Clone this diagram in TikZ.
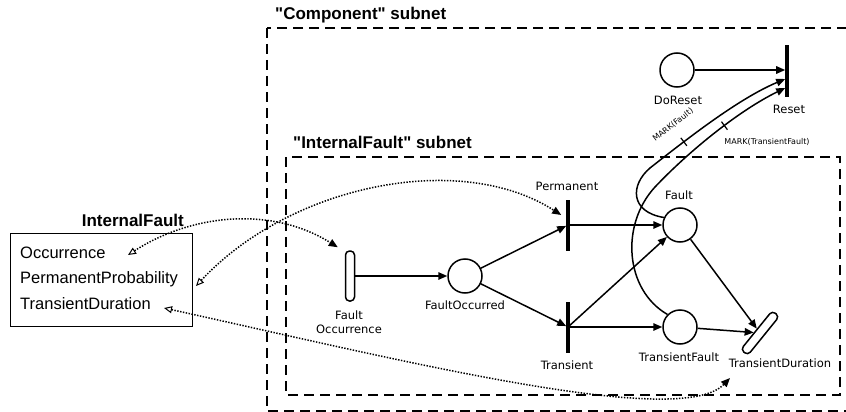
\documentclass[tikz,border=0pt]{standalone}
\usepackage{fontspec}
\usetikzlibrary{arrows.meta,calc}
\newfontfamily\netfont{DejaVu Sans}
\newfontfamily\boxfont{Liberation Sans}

\begin{document}
\begin{tikzpicture}[x=1pt,y=-1pt,
  place/.style={circle,draw,line width=1.5pt,minimum size=34pt,inner sep=0},
  bar/.style={rectangle,fill=black,minimum width=3.2pt,minimum height=51pt,inner sep=0},
  timed/.style={rectangle,draw,rounded corners=4pt,line width=1.5pt,minimum width=9pt,minimum height=50pt,inner sep=0},
  lbl/.style={font=\netfont\fontsize{11.5}{14}\selectfont,inner sep=0},
  marklbl/.style={font=\netfont\fontsize{8}{9}\selectfont,inner sep=0},
  arc/.style={line width=1.5pt,-{Triangle[length=9pt,width=7.5pt]}},
  tick/.style={sloped,inner sep=0},
  link/.style={line width=1.5pt,dash pattern=on 1.4pt off 1.5pt,
    {Triangle[open,length=8pt,width=7pt,line width=1pt]}-{Triangle[length=9pt,width=7.5pt]}},
  subnet/.style={line width=1.8pt,dash pattern=on 10pt off 6pt},
  title/.style={font=\boxfont\bfseries\fontsize{17}{20}\selectfont,inner sep=0,anchor=west},
  item/.style={font=\boxfont\fontsize{16.5}{19}\selectfont,inner sep=0,anchor=west},
]
\useasboundingbox (0,0) rectangle (846,412);
\clip (0,0) rectangle (846,412);
\fill[white] (0,0) rectangle (846,412);

% subnet frames
\draw[subnet] (267,28) rectangle (870,411);
\draw[subnet] (286,157) rectangle (840,395);
\node[title] (comp-t) at (275,15) {"Component" subnet};
\node[title] (if-t) at (293,142) {"InternalFault" subnet};

% parameter block
\node[draw,line width=1.4pt,minimum width=182pt,minimum height=93pt,anchor=north west,inner sep=0] (ifbox) at (10,233) {};
\node[title,anchor=east] (ifbox-t) at (184,220) {InternalFault};
\node[item] (occ) at (20,253) {Occurrence};
\node[item] (pprob) at (20,279) {PermanentProbability};
\node[item] (tdur) at (20,304) {TransientDuration};

% places and transitions
\node[place] (doreset) at (677,70) {};
\node[bar,minimum height=52pt] (reset) at (787,71) {};
\node[place] (fault) at (680,225) {};
\node[place] (tf) at (680,327) {};
\node[place] (fo) at (465,276) {};
\node[bar] (perm) at (568,225) {};
\node[bar] (trans) at (568,327) {};
\node[timed] (focc) at (350,276) {};
\node[timed,rotate=-39] (td) at (760,333) {};

% labels
\node[lbl] (doreset-l) at (678,100) {DoReset};
\node[lbl] (reset-l) at (789,109) {Reset};
\node[lbl] (fault-l) at (679,195) {Fault};
\node[lbl] (tf-l) at (679,357) {TransientFault};
\node[lbl] (td-l) at (780,363) {TransientDuration};
\node[lbl] (perm-l) at (567,186) {Permanent};
\node[lbl] (trans-l) at (567,365) {Transient};
\node[lbl] (fo-l) at (465,305) {FaultOccurred};
\node[lbl,align=center] (focc-l) at (349,322) {Fault\\Occurrence};

% arcs
\draw[arc] (focc) -- (fo);
\draw[arc] (fo) -- (perm);
\draw[arc] (fo) -- (trans);
\draw[arc] (perm) -- (fault);
\draw[arc] (trans) -- (fault);
\draw[arc] (trans) -- (tf);
\draw[arc] (fault) -- (td);
\draw[arc] (tf) -- (td);
\draw[arc] (doreset) -- (doreset -| reset.west);

% reset arcs with marking guards
\draw[arc] (fault.155) .. controls (630,212) and (630,185) .. (650,168)
  .. controls (692,135) and (740,98) .. ([yshift=-8pt]reset.west)
  node[tick,pos=.26] (tick-f) {\rule[-5pt]{1.2pt}{10pt}};
\draw[arc] (tf.135) .. controls (625,290) and (620,225) .. (655,187)
  .. controls (690,150) and (740,110) .. ([yshift=-17pt]reset.west)
  node[tick,pos=.56] (tick-tf) {\rule[-5pt]{1.2pt}{10pt}};
\node[marklbl,rotate=38] (markf) at (673,125) {MARK(Fault)};
\node[marklbl] (marktf) at (767,142) {MARK(TransientFault)};

% parameter links
\coordinate (occ-p) at (128,255);
\coordinate (pprob-p) at (196,286);
\coordinate (tdur-p) at (164,308);
\coordinate (focc-in) at ([xshift=-7pt,yshift=3pt]focc.north west);
\coordinate (perm-in) at ([xshift=-5pt,yshift=10pt]perm.west);
\coordinate (td-in) at (730,378);
\draw[link] (occ-p) .. controls (190,215) and (270,205) .. (focc-in);
\draw[link] (pprob-p) .. controls (290,185) and (460,150) .. (perm-in);
\draw[link] (tdur-p) .. controls (400,360) and (680,430) .. (td-in);
\end{tikzpicture}
\end{document}
